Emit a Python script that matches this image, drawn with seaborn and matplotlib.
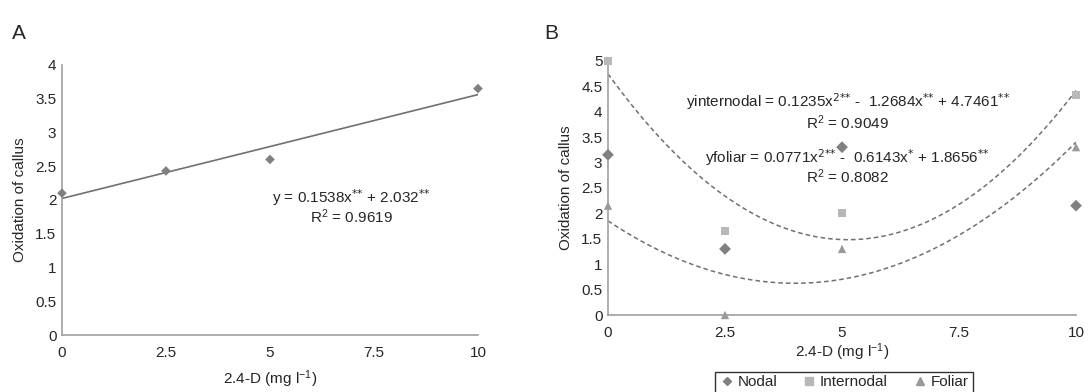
import matplotlib
matplotlib.use("Agg")
import matplotlib.pyplot as plt
from matplotlib.lines import Line2D
import pandas as pd
import seaborn as sns

# ─── Data ─────────────────────────────────────────────────────────────────────
dose = [0, 2.5, 5, 10]

# panel A (single series, linear fit)
oxid_a = [2.10, 2.43, 2.60, 3.65]

# panel B (three explants, quadratic fits for internodal & foliar)
nodal      = [3.15, 1.30, 3.30, 2.15]
internodal = [5.00, 1.65, 2.00, 4.33]
foliar     = [2.15, 0.00, 1.30, 3.30]

x_ticks = [0, 2.5, 5, 7.5, 10]
x_ticklabels = ["0", "2.5", "5", "7.5", "10"]

# ─── Style ────────────────────────────────────────────────────────────────────
sns.set_style("white")
plt.rcParams["font.family"] = ["Liberation Sans", "DejaVu Sans"]
plt.rcParams["mathtext.default"] = "regular"
FS = 11
plt.rcParams["font.size"] = FS

SPINE = "#a0a0a0"
C_NODAL = "#808080"
C_INTER = "#b8b8b8"
C_FOL = "#999999"
C_LINE = "#707070"

S2 = r"$^{\text{**}}$"   # significance stars as superscript
S1 = r"$^{\text{*}}$"

fig = plt.figure(figsize=(10.89, 3.92), dpi=100)
ax_a = fig.add_axes([0.0569, 0.1454, 0.382, 0.689])
# right edge kept a few px inside the canvas so the "10" label is not clipped
ax_b = fig.add_axes([0.5583, 0.1964, 0.4298, 0.6487])


def style_axis(ax, ymax):
    sns.despine(ax=ax)
    for s in ("left", "bottom"):
        ax.spines[s].set_color(SPINE)
        ax.spines[s].set_linewidth(1.2)
    ax.set_xlim(0, 10)
    ax.set_ylim(0, ymax)
    ax.set_xticks(x_ticks)
    ax.set_xticklabels(x_ticklabels)
    ax.set_yticks([i * 0.5 for i in range(int(ymax * 2) + 1)])
    ax.set_yticklabels([f"{v:g}" for v in ax.get_yticks()])
    ax.tick_params(axis="x", length=0, pad=8, labelsize=FS)
    ax.tick_params(axis="y", length=0, pad=4, labelsize=FS)
    ax.set_ylabel("Oxidation of callus", fontsize=FS, labelpad=6)
    ax.set_xlabel("2.4-D (mg l$^{-1}$)", fontsize=FS)


# ─── Panel A ──────────────────────────────────────────────────────────────────
df_a = pd.DataFrame({"dose": dose, "oxid": oxid_a})
sns.regplot(data=df_a, x="dose", y="oxid", ax=ax_a, ci=None, scatter=False,
            line_kws={"color": C_LINE, "lw": 1.2})
sns.scatterplot(data=df_a, x="dose", y="oxid", ax=ax_a, marker="D", s=24,
                color=C_NODAL, edgecolor="none", clip_on=False, zorder=3)
style_axis(ax_a, 4)
ax_a.xaxis.labelpad = 6
ax_a.text(6.95, 2.04, f"y = 0.1538x{S2} + 2.032{S2}", ha="center", va="center", fontsize=FS)
ax_a.text(6.95, 1.75, "R$^{2}$ = 0.9619", ha="center", va="center", fontsize=FS)
fig.text(0.011, 0.915, "A", fontsize=15, va="center")

# ─── Panel B ──────────────────────────────────────────────────────────────────
df_b = pd.DataFrame({"dose": dose * 3,
                     "oxid": nodal + internodal + foliar,
                     "explant": ["Nodal"] * 4 + ["Internodal"] * 4 + ["Foliar"] * 4})

for name in ("Internodal", "Foliar"):
    sub = df_b[df_b["explant"] == name]
    sns.regplot(data=sub, x="dose", y="oxid", ax=ax_b, order=2, ci=None, scatter=False,
                line_kws={"color": C_LINE, "lw": 1.1, "ls": (0, (3, 2))})

sns.scatterplot(data=df_b, x="dose", y="oxid", hue="explant", style="explant", ax=ax_b,
                markers={"Nodal": "D", "Internodal": "s", "Foliar": "^"},
                palette={"Nodal": C_NODAL, "Internodal": C_INTER, "Foliar": C_FOL},
                s=36, edgecolor="none", clip_on=False, zorder=3, legend=False)
style_axis(ax_b, 5)
ax_b.xaxis.labelpad = 1
ax_b.text(5.12, 4.19, r"yinternodal = 0.1235x$^{\text{2**}}$ -  1.2684x" + S2 + " + 4.7461" + S2,
          ha="center", va="center", fontsize=FS)
ax_b.text(5.12, 3.78, "R$^{2}$ = 0.9049", ha="center", va="center", fontsize=FS)
ax_b.text(5.12, 3.09, r"yfoliar = 0.0771x$^{\text{2**}}$ -  0.6143x" + S1 + " + 1.8656" + S2,
          ha="center", va="center", fontsize=FS)
ax_b.text(5.12, 2.71, "R$^{2}$ = 0.8082", ha="center", va="center", fontsize=FS)
fig.text(0.500, 0.915, "B", fontsize=15, va="center")

handles = [
    Line2D([], [], ls="none", marker="D", ms=4, color=C_NODAL, label="Nodal"),
    Line2D([], [], ls="none", marker="s", ms=6, color=C_INTER, label="Internodal"),
    Line2D([], [], ls="none", marker="^", ms=6, color=C_FOL, label="Foliar"),
]
leg = fig.legend(handles=handles, loc="upper center", bbox_to_anchor=(0.775, 0.052),
                 ncol=3, frameon=True, fancybox=False, fontsize=FS,
                 handletextpad=0.2, columnspacing=1.6, borderpad=0.25, handlelength=1.0,
                 borderaxespad=0.0)
leg.get_frame().set_edgecolor("black")
leg.get_frame().set_linewidth(1.0)

fig.savefig("out.png", dpi=100)
